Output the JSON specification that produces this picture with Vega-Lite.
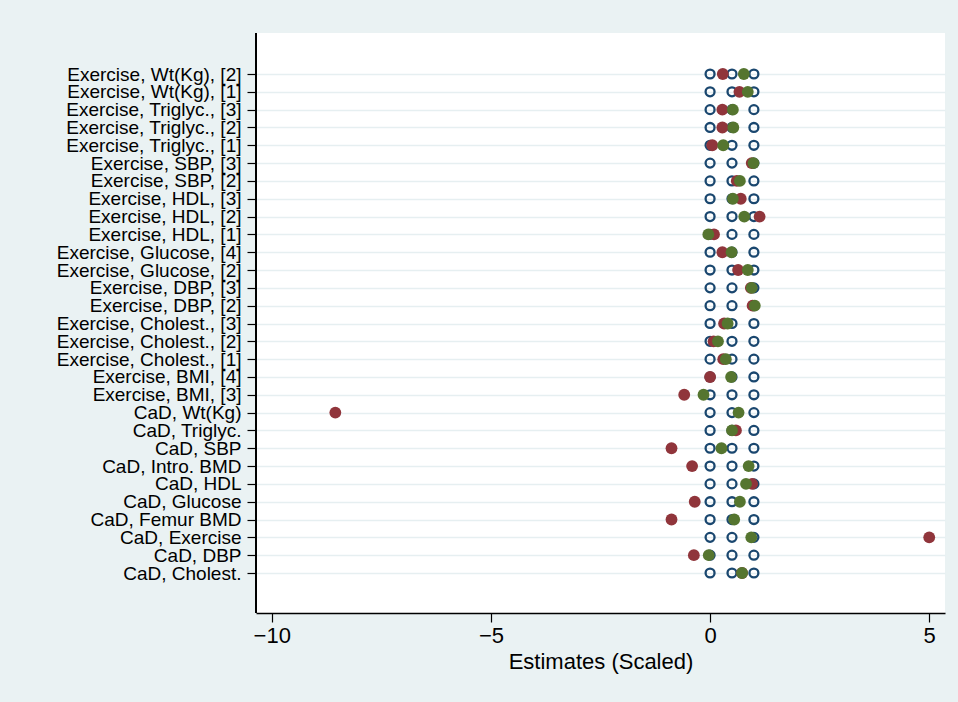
{
  "$schema": "https://vega.github.io/schema/vega-lite/v6.json",
  "width": 689,
  "height": 580,
  "autosize": {"type": "none"},
  "padding": {"left": 256, "top": 33, "right": 13, "bottom": 89},
  "background": "#EAF2F3",
  "config": {
    "view": {"fill": "white", "stroke": null},
    "font": "Liberation Sans"
  },
  "data": {
    "values": [
      {"label": "Exercise, Wt(Kg), [2]", "lo": 0, "mid": 0.5, "hi": 1, "red": 0.29, "green": 0.77},
      {"label": "Exercise, Wt(Kg), [1]", "lo": 0, "mid": 0.5, "hi": 1, "red": 0.67, "green": 0.86},
      {"label": "Exercise, Triglyc., [3]", "lo": 0, "mid": 0.5, "hi": 1, "red": 0.28, "green": 0.52},
      {"label": "Exercise, Triglyc., [2]", "lo": 0, "mid": 0.5, "hi": 1, "red": 0.28, "green": 0.53},
      {"label": "Exercise, Triglyc., [1]", "lo": 0, "mid": 0.5, "hi": 1, "red": 0.05, "green": 0.30},
      {"label": "Exercise, SBP, [3]", "lo": 0, "mid": 0.5, "hi": 1, "red": 0.95, "green": 0.99},
      {"label": "Exercise, SBP, [2]", "lo": 0, "mid": 0.5, "hi": 1, "red": 0.61, "green": 0.68},
      {"label": "Exercise, HDL, [3]", "lo": 0, "mid": 0.5, "hi": 1, "red": 0.70, "green": 0.52},
      {"label": "Exercise, HDL, [2]", "lo": 0, "mid": 0.5, "hi": 1, "red": 1.13, "green": 0.78},
      {"label": "Exercise, HDL, [1]", "lo": 0, "mid": 0.5, "hi": 1, "red": 0.09, "green": -0.04},
      {"label": "Exercise, Glucose, [4]", "lo": 0, "mid": 0.5, "hi": 1, "red": 0.28, "green": 0.49},
      {"label": "Exercise, Glucose, [2]", "lo": 0, "mid": 0.5, "hi": 1, "red": 0.64, "green": 0.86},
      {"label": "Exercise, DBP, [3]", "lo": 0, "mid": 0.5, "hi": 1, "red": 0.93, "green": 0.95},
      {"label": "Exercise, DBP, [2]", "lo": 0, "mid": 0.5, "hi": 1, "red": 0.97, "green": 1.02},
      {"label": "Exercise, Cholest., [3]", "lo": 0, "mid": 0.5, "hi": 1, "red": 0.32, "green": 0.40},
      {"label": "Exercise, Cholest., [2]", "lo": 0, "mid": 0.5, "hi": 1, "red": 0.08, "green": 0.18},
      {"label": "Exercise, Cholest., [1]", "lo": 0, "mid": 0.5, "hi": 1, "red": 0.30, "green": 0.36},
      {"label": "Exercise, BMI, [4]", "lo": 0, "mid": 0.5, "hi": 1, "red": 0.0, "green": 0.48},
      {"label": "Exercise, BMI, [3]", "lo": 0, "mid": 0.5, "hi": 1, "red": -0.59, "green": -0.15},
      {"label": "CaD, Wt(Kg)", "lo": 0, "mid": 0.5, "hi": 1, "red": -8.55, "green": 0.65},
      {"label": "CaD, Triglyc.", "lo": 0, "mid": 0.5, "hi": 1, "red": 0.59, "green": 0.50},
      {"label": "CaD, SBP", "lo": 0, "mid": 0.5, "hi": 1, "red": -0.88, "green": 0.26},
      {"label": "CaD, Intro. BMD", "lo": 0, "mid": 0.5, "hi": 1, "red": -0.41, "green": 0.88},
      {"label": "CaD, HDL", "lo": 0, "mid": 0.5, "hi": 1, "red": 0.96, "green": 0.82},
      {"label": "CaD, Glucose", "lo": 0, "mid": 0.5, "hi": 1, "red": -0.35, "green": 0.68},
      {"label": "CaD, Femur BMD", "lo": 0, "mid": 0.5, "hi": 1, "red": -0.88, "green": 0.55},
      {"label": "CaD, Exercise", "lo": 0, "mid": 0.5, "hi": 1, "red": 5.0, "green": 0.94},
      {"label": "CaD, DBP", "lo": 0, "mid": 0.5, "hi": 1, "red": -0.37, "green": -0.03},
      {"label": "CaD, Cholest.", "lo": 0, "mid": 0.5, "hi": 1, "red": 0.73, "green": 0.73}
    ]
  },
  "layer": [
    {
      "mark": {"type": "rule", "color": "#000000", "strokeWidth": 1.3},
      "encoding": {
        "x": {"datum": -10.36, "type": "quantitative"}
      }
    },
    {
      "transform": [{"fold": ["lo", "mid", "hi"], "as": ["ref", "refval"]}],
      "mark": {"type": "point", "shape": "circle", "filled": false, "stroke": "#1A476F", "strokeWidth": 2.3, "size": 80, "opacity": 1},
      "encoding": {
        "x": {
          "field": "refval",
          "type": "quantitative",
          "scale": {"domain": [-10.36, 5.36], "nice": false, "zero": false},
          "axis": {
            "title": "Estimates (Scaled)",
            "values": [-10, -5, 0, 5],
            "grid": false,
            "domainColor": "#000000",
            "domainWidth": 1.3,
            "tickColor": "#000000",
            "tickWidth": 1.2,
            "tickSize": 9,
            "labelFontSize": 22,
            "labelColor": "#000000",
            "labelPadding": 3,
            "titleFontSize": 22,
            "titleFontWeight": "normal",
            "titleColor": "#000000",
            "titlePadding": 5
          }
        },
        "y": {
          "field": "label",
          "type": "nominal",
          "sort": null,
          "scale": {"type": "point", "padding": 0, "range": [41, 540]},
          "axis": {
            "title": null,
            "domain": false,
            "ticks": true,
            "tickSize": 9,
            "tickColor": "#000000",
            "tickWidth": 1.2,
            "labelFontSize": 19,
            "labelColor": "#000000",
            "labelPadding": 6,
            "labelLimit": 0,
            "labelOverlap": false,
            "labelBound": false,
            "grid": true,
            "gridColor": "#E6EFF1",
            "gridWidth": 1.6
          }
        }
      }
    },
    {
      "mark": {"type": "circle", "color": "#90353B", "size": 140, "opacity": 1},
      "encoding": {
        "x": {"field": "red", "type": "quantitative", "title": "Estimates (Scaled)"},
        "y": {"field": "label", "type": "nominal", "sort": null}
      }
    },
    {
      "mark": {"type": "circle", "color": "#55752F", "size": 140, "opacity": 1},
      "encoding": {
        "x": {"field": "green", "type": "quantitative", "title": "Estimates (Scaled)"},
        "y": {"field": "label", "type": "nominal", "sort": null}
      }
    }
  ]
}
